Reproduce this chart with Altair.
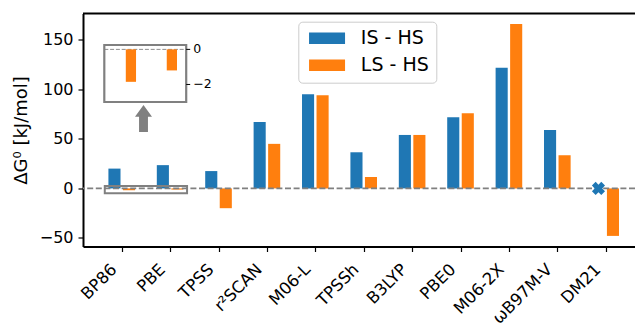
import json

import altair as alt
import pandas as pd

# Spin-state energy gaps per functional
functionals = ["BP86", "PBE", "TPSS", "r²SCAN", "M06-L", "TPSSh", "B3LYP",
               "PBE0", "M06-2X", "ωB97M-V", "DM21"]
is_hs = [20.0, 23.5, 17.5, 67.0, 95.0, 36.5, 54.0, 72.0, 122.0, 59.0, None]
ls_hs = [-1.85, -1.2, -20.0, 45.0, 94.0, 11.5, 54.0, 76.0, 166.0, 33.5, -48.0]
series = ["IS - HS", "LS - HS"]
colors = ["#1f77b4", "#ff7f0e"]
y_ticks = [-50, 0, 50, 100, 150]
inset_ticks = [0, -2]
inset_tick_labels = ["0", "−2"]

FONT = "DejaVu Sans"
GREY = "#808080"
W, H = 552, 233
BAR_W = 0.25
OFFSET = 0.15

rows = []
for i, name in enumerate(functionals):
    for s, vals, off in ((series[0], is_hs, -OFFSET), (series[1], ls_hs, OFFSET)):
        rows.append({"idx": i, "name": name, "series": s,
                     "value": vals[i], "pos": i + off})
df = pd.DataFrame(rows)
one = pd.DataFrame({"k": [0]})

# main axes scales
X_DOM = [-0.8, -0.8 + W / 48.4]
Y_DOM = [-58.7, 176.7]
xscale = alt.Scale(domain=X_DOM, nice=False, zero=False)
yscale = alt.Scale(domain=Y_DOM, nice=False, zero=False)

# inset axes: data window and its pixel box inside the plot area
INS_X = (-0.5, 1.5)
INS_Y = (-3.0, 0.25)
INS_L, INS_R, INS_T, INS_B = 21.3, 103.2, 31.5, 88.5
kx = (INS_R - INS_L) / (INS_X[1] - INS_X[0])
ky = (INS_B - INS_T) / (INS_Y[1] - INS_Y[0])
ixscale = alt.Scale(domain=[INS_X[0] - INS_L / kx, INS_X[0] + (W - INS_L) / kx],
                    nice=False, zero=False)
iyscale = alt.Scale(domain=[INS_Y[1] - (H - INS_T) / ky, INS_Y[1] + INS_T / ky],
                    nice=False, zero=False)

label_expr = json.dumps(functionals, ensure_ascii=False) + "[datum.value]"

xaxis = alt.Axis(values=list(range(len(functionals))), labelExpr=label_expr,
                 title=None, grid=False, labelAngle=315, labelAlign="right",
                 labelBaseline="middle", labelOffset=-8, labelPadding=15,
                 labelFontSize=16.5, labelFont=FONT, labelColor="black",
                 labelOverlap=False, labelFlush=False, labelBound=False,
                 tickSize=5, tickWidth=1.2, tickColor="black",
                 domainColor="black", domainWidth=2)
yaxis = alt.Axis(values=y_ticks, title="ΔG⁰ [kJ/mol]", grid=False,
                 titleFontSize=18, titleFont=FONT, titleFontWeight="normal",
                 titleColor="black", titleAngle=270, titleX=-62, titleY=H / 2,
                 titleAlign="center", titleBaseline="middle",
                 labelFontSize=16, labelFont=FONT, labelColor="black",
                 labelPadding=5, tickSize=5, tickWidth=1.2, tickColor="black",
                 domainColor="black", domainWidth=2)

patch = "M-1,-1 L5.26,-1 L5.26,1 L-1,1 Z"
legend = alt.Legend(title=None, orient="none", legendX=215.3, legendY=8.2,
                    symbolType=patch, symbolSize=132.25, symbolStrokeWidth=0,
                    symbolOpacity=1, labelFontSize=19, labelFont=FONT,
                    labelColor="black", labelOffset=36.5, padding=7,
                    rowPadding=7, fillColor="white", strokeColor="#cccccc",
                    cornerRadius=4)

bars = alt.Chart(df).transform_filter("isValid(datum.value)").transform_calculate(
    x0=f"datum.pos - {BAR_W / 2}", x1=f"datum.pos + {BAR_W / 2}", base="0"
).mark_bar(opacity=1).encode(
    x=alt.X("x0:Q", scale=xscale, axis=xaxis),
    x2="x1:Q",
    y=alt.Y("value:Q", scale=yscale, axis=yaxis),
    y2="base:Q",
    color=alt.Color("series:N", scale=alt.Scale(domain=series, range=colors),
                    legend=legend),
)

zero_line = alt.Chart(one).mark_rule(
    color=GREY, strokeWidth=1.7, strokeDash=[6, 2.6]
).encode(y=alt.datum(0))

# functional without an IS result: cross at zero
missing = alt.Chart(df).transform_filter(
    f"datum.series === '{series[0]}' && !isValid(datum.value)"
).transform_calculate(zero="0").mark_point(
    shape="cross", angle=45, filled=True, size=175, color=colors[0], opacity=1
).encode(x="pos:Q", y="zero:Q")

zoom_box = alt.Chart(one).mark_rect(
    fill="transparent", stroke=GREY, strokeWidth=2
).encode(x=alt.datum(-0.35), x2=alt.datum(1.35), y=alt.datum(-5.0), y2=alt.datum(2.5))

arrow_path = ("M0,-1 L0.63,-0.13 L0.33,-0.13 L0.33,1 L-0.33,1 "
              "L-0.33,-0.13 L-0.63,-0.13 Z")
arrow = alt.Chart(one).mark_point(
    shape=arrow_path, size=729, filled=True, color=GREY, opacity=1, strokeWidth=0
).encode(x=alt.datum(0.45), y=alt.datum(70.5))

top_spine = alt.Chart(one).mark_rule(color="black", strokeWidth=2).encode(
    x=alt.value(0), x2=alt.value(W), y=alt.value(0))

main = alt.layer(bars, zero_line, missing, zoom_box, arrow, top_spine)

# inset: close-up of the two small LS - HS bars
inset_bg = alt.Chart(one).mark_rect(fill="white").encode(
    x=alt.X(datum=INS_X[0], scale=ixscale, axis=None),
    x2=alt.datum(INS_X[1]),
    y=alt.Y(datum=INS_Y[0], scale=iyscale, axis=None),
    y2=alt.datum(INS_Y[1]),
)
inset_zero = alt.Chart(one).mark_rule(
    color="#8c8c8c", strokeWidth=1, strokeDash=[4, 1.8]
).encode(x=alt.datum(INS_X[0]), x2=alt.datum(INS_X[1]), y=alt.datum(0))
inset_bars = alt.Chart(df).transform_filter(
    f"datum.series === '{series[1]}' && datum.idx < 2"
).transform_calculate(
    x0=f"datum.pos - {BAR_W / 2}", x1=f"datum.pos + {BAR_W / 2}", base="0"
).mark_bar(color=colors[1], opacity=1).encode(
    x="x0:Q", x2="x1:Q", y="value:Q", y2="base:Q")
inset_frame = alt.Chart(one).mark_rect(
    fill="transparent", stroke=GREY, strokeWidth=2.2
).encode(x=alt.datum(INS_X[0]), x2=alt.datum(INS_X[1]),
         y=alt.datum(INS_Y[0]), y2=alt.datum(INS_Y[1]))
tick_df = pd.DataFrame({"t": inset_ticks, "label": inset_tick_labels})
inset_tick_marks = alt.Chart(tick_df).mark_rule(color="black", strokeWidth=1).encode(
    x=alt.datum(INS_X[1]), x2=alt.datum(INS_X[1] + 4.0 / kx), y="t:Q")
inset_tick_text = alt.Chart(tick_df).mark_text(
    align="left", baseline="middle", dx=7, fontSize=12.5, font=FONT, color="black"
).encode(x=alt.datum(INS_X[1]), y="t:Q", text="label:N")

inset = alt.layer(inset_bg, inset_zero, inset_bars, inset_frame,
                  inset_tick_marks, inset_tick_text)

chart = alt.layer(main, inset).resolve_scale(
    x="independent", y="independent"
).properties(
    width=W, height=H,
    autosize=alt.AutoSizeParams(type="none"),
    padding={"left": 83, "top": 13.5, "right": 0, "bottom": 77},
).configure(font=FONT).configure_view(stroke=None)

chart.save("out.html", embed_options={"renderer": "svg", "actions": False})
